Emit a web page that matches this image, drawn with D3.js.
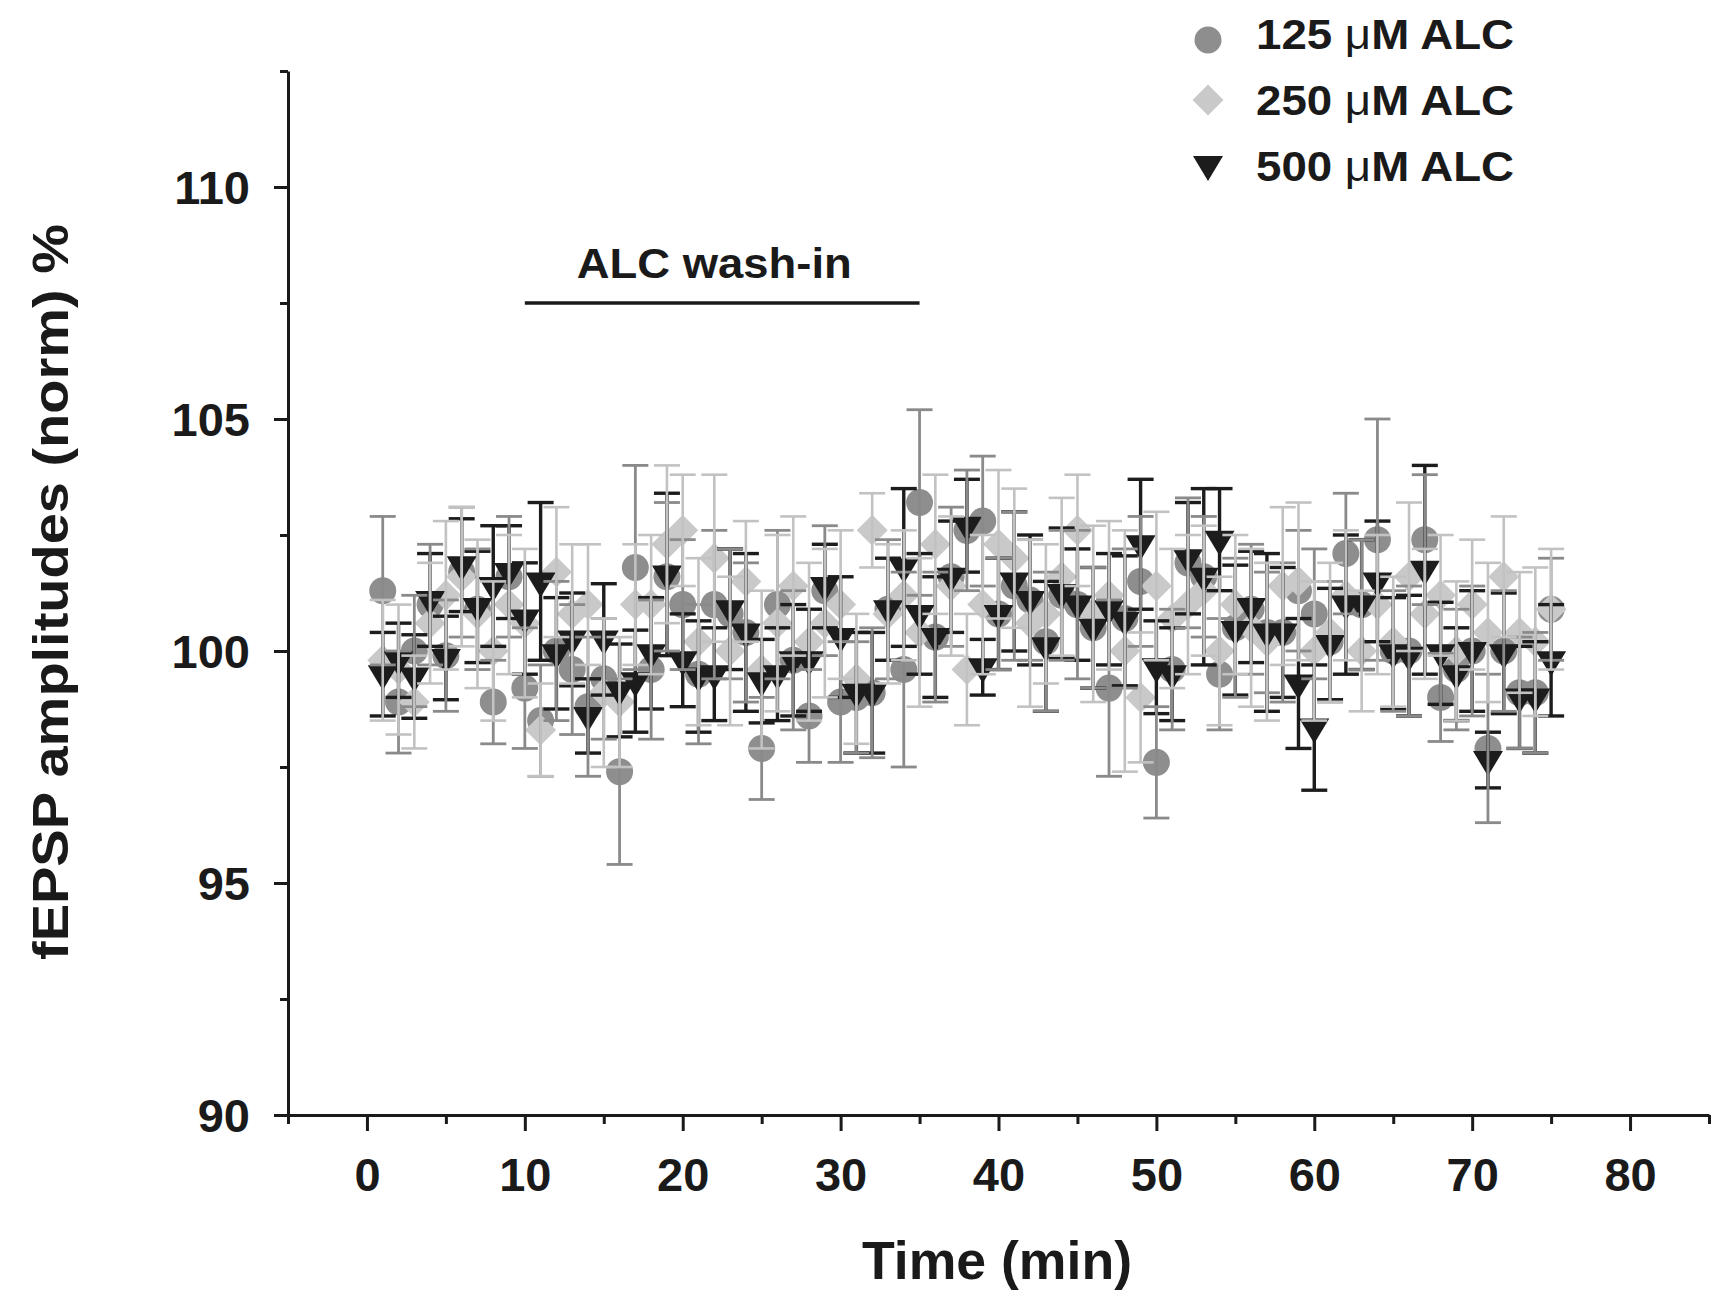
<!DOCTYPE html>
<html>
<head>
<meta charset="utf-8">
<script src="https://cdn.jsdelivr.net/npm/d3@7"></script>
<style>
  body { margin: 0; background: #fff; }
  text { font-family: "Liberation Sans", Arial, sans-serif; font-weight: bold; fill: #1a1a1a; }
</style>
</head>
<body>
<div id="chart"></div>
<script>
// fEPSP amplitudes during ALC wash-in

const minutes = [1,2,3,4,5,6,7,8,9,10,11,12,13,14,15,16,17,18,19,20,21,22,23,24,25,
  26,27,28,29,30,31,32,33,34,35,36,37,38,39,40,41,42,43,44,45,46,47,48,49,50,
  51,52,53,54,55,56,57,58,59,60,61,62,63,64,65,66,67,68,69,70,71,72,73,74,75];

const alc125 = [101.3,98.9,100.0,101.0,99.9,101.7,100.9,98.9,101.6,99.2,98.5,100.0,99.6,98.8,99.4,97.4,101.8,99.6,101.6,101.0,
  99.5,101.0,100.8,100.4,97.9,101.0,99.8,98.6,101.3,98.9,99.0,99.1,100.9,99.6,103.2,100.3,101.6,102.6,102.8,100.8,
  101.4,101.1,100.2,101.2,101.0,100.5,99.2,100.7,101.5,97.6,99.6,101.9,101.6,99.5,100.5,100.9,100.4,100.4,101.3,100.8,
  100.2,102.1,101.0,102.4,100.0,100.0,102.4,99.0,99.6,100.0,97.9,100.0,99.1,99.1,100.9];
const err125 = [1.6,1.1,1.2,1.3,1.2,1.4,1.3,0.9,1.3,1.3,1.2,1.5,1.4,1.5,1.3,2.0,2.2,1.5,1.6,1.4,
  1.5,1.6,1.4,1.5,1.1,1.6,1.5,1.0,1.4,1.3,1.2,1.4,1.5,2.1,2.0,1.4,1.5,1.3,1.4,1.2,
  1.6,1.3,1.5,1.4,1.6,1.3,1.9,1.5,1.4,1.2,1.3,1.4,1.3,1.2,1.5,1.4,1.3,1.5,1.3,1.4,
  1.3,1.3,1.4,2.6,1.3,1.4,1.4,0.95,1.3,1.4,1.6,1.3,1.2,1.3,1.1];

const alc250 = [99.8,99.6,98.9,100.6,101.2,101.6,100.8,100.0,101.0,100.6,98.3,101.7,100.8,101.0,99.1,98.9,101.0,101.0,102.3,102.6,
  100.2,102.0,100.0,101.5,99.6,100.6,101.4,100.2,100.6,101.0,99.4,102.6,100.8,101.2,100.4,102.3,101.4,99.6,101.0,102.3,
  102.0,100.6,100.8,101.6,102.6,100.8,101.2,100.0,99.0,101.4,100.7,101.0,101.3,100.0,101.0,100.5,100.2,101.4,101.5,100.0,
  100.4,101.2,100.0,101.0,100.2,101.6,100.8,101.2,100.0,101.0,100.4,101.6,100.4,100.2,100.9];
const err250 = [1.3,1.4,1.0,1.3,1.6,1.5,1.6,1.5,1.5,1.6,1.0,1.4,1.5,1.3,1.6,1.4,1.3,1.5,1.7,1.2,
  1.8,1.8,1.6,1.3,1.7,1.9,1.5,1.7,1.6,1.6,1.4,0.8,1.5,1.4,1.6,1.5,1.5,1.2,1.5,1.6,
  1.5,1.8,1.5,1.7,1.2,1.9,1.6,2.6,1.4,1.6,1.5,1.5,1.4,1.6,1.5,1.7,1.7,1.7,1.7,1.5,
  1.5,1.4,1.3,1.5,1.4,1.6,1.4,1.3,1.5,1.4,1.5,1.3,1.3,1.6,1.3];

const alc500 = [99.5,99.8,99.45,101.1,99.85,101.85,100.95,101.4,101.7,100.7,101.5,99.95,100.25,98.6,100.25,99.15,99.35,99.95,101.65,99.8,
  99.45,99.5,100.9,100.4,99.35,99.5,99.8,99.8,101.4,100.3,99.1,99.1,100.9,101.8,100.8,100.3,101.6,102.7,99.65,100.8,
  101.5,101.1,100.1,101.25,101.0,100.5,100.9,100.65,102.3,99.65,99.5,102.0,101.6,102.4,100.45,100.95,100.4,100.4,99.3,98.35,
  100.15,101.0,101.0,101.5,99.95,99.9,101.75,99.95,99.5,100.0,97.65,99.95,99.0,99.0,99.8];
const err500 = [0.9,0.8,0.9,1.0,0.9,1.0,1.2,1.3,1.0,1.2,1.7,1.2,1.0,0.8,1.2,1.0,1.1,1.2,1.75,1.0,
  1.2,1.0,1.3,1.7,0.9,1.0,1.2,1.1,0.9,1.3,1.3,1.3,1.1,1.7,1.3,1.3,1.2,1.0,0.6,1.2,
  1.5,1.4,1.4,1.4,1.2,1.3,1.2,1.4,1.4,1.0,1.0,1.2,1.9,1.1,1.4,1.2,1.7,1.4,1.4,1.35,
  1.2,1.5,1.4,1.3,1.2,1.3,2.25,1.1,1.0,1.3,0.6,1.3,1.1,1.2,1.2];

const xTicks = [0, 10, 20, 30, 40, 50, 60, 70, 80],
    xMinor = [-5, 5, 15, 25, 35, 45, 55, 65, 75, 85],
    yTicks = [90, 95, 100, 105, 110],
    yMinor = [92.5, 97.5, 102.5, 107.5, 112.5];

const washIn = [10, 35], washLevel = 107.5;

const width = 1711, height = 1292;

const svg = d3.select("#chart")
  .append("svg")
  .attr("width", width)
  .attr("height", height)
  .attr("viewBox", [0, 0, width, height]);

const x = d3.scaleLinear().domain([-5, 85]).range([288, 1709]);
const y = d3.scaleLinear().domain([90, 112.5]).range([1115, 71]);

const series = [
  { name: "125", values: alc125, errs: err125, fill: "#8e8e8e", bar: "#8a8a8a", barW: 2.8, shape: "circ" },
  { name: "250", values: alc250, errs: err250, fill: "#c9c9c9", bar: "#c2c2c2", barW: 2.6, shape: "dia" },
  { name: "500", values: alc500, errs: err500, fill: "#1c1c1c", bar: "#1c1c1c", barW: 3.4, shape: "tri" }
];
series.forEach(s => {
  s.pts = minutes.map((t, i) => ({ t, v: s.values[i], e: s.errs[i] }));
});

const cap = 13;

function marker(sel, shape, fill) {
  if (shape === "circ") {
    sel.append("circle").attr("r", 13.5).attr("fill", fill);
  } else if (shape === "dia") {
    sel.append("path").attr("d", "M0,-15.5L15.5,0L0,15.5L-15.5,0Z").attr("fill", fill);
  } else {
    sel.append("path").attr("d", "M-15,-9L15,-9L0,16Z").attr("fill", fill);
  }
}

// symbols first (125 under 250 under 500)
series.forEach(s => {
  svg.append("g")
    .attr("class", "marks-" + s.name)
    .selectAll("g")
    .data(s.pts)
    .join("g")
    .attr("transform", d => `translate(${x(d.t)},${y(d.v)})`)
    .call(sel => marker(sel, s.shape, s.fill));
});

// error bars on top, the light 250 bars last
[series[2], series[0], series[1]].forEach(s => {
  const bars = svg.append("g")
    .attr("class", "bars-" + s.name)
    .attr("stroke", s.bar)
    .attr("stroke-width", s.barW)
    .selectAll("g")
    .data(s.pts)
    .join("g");

  bars.append("line")
    .attr("x1", d => x(d.t)).attr("x2", d => x(d.t))
    .attr("y1", d => y(d.v - d.e)).attr("y2", d => y(d.v + d.e));
  bars.append("line")
    .attr("x1", d => x(d.t) - cap).attr("x2", d => x(d.t) + cap)
    .attr("y1", d => y(d.v + d.e)).attr("y2", d => y(d.v + d.e));
  bars.append("line")
    .attr("x1", d => x(d.t) - cap).attr("x2", d => x(d.t) + cap)
    .attr("y1", d => y(d.v - d.e)).attr("y2", d => y(d.v - d.e));
});

// axes
const xAxis = svg.append("g")
  .attr("transform", `translate(0,${y(90)})`)
  .call(d3.axisBottom(x).tickValues(xTicks).tickSize(16).tickSizeOuter(0));
svg.append("g")
  .attr("transform", `translate(0,${y(90)})`)
  .call(d3.axisBottom(x).tickValues(xMinor).tickSize(9).tickSizeOuter(0).tickFormat(""))
  .call(g => g.select(".domain").remove());

xAxis.selectAll("text")
  .attr("y", 76)
  .attr("dy", 0)
  .style("font-size", "47px");

const yAxis = svg.append("g")
  .attr("transform", `translate(${x(-5)},0)`)
  .call(d3.axisLeft(y).tickValues(yTicks).tickSize(14).tickPadding(24).tickSizeOuter(0));
svg.append("g")
  .attr("transform", `translate(${x(-5)},0)`)
  .call(d3.axisLeft(y).tickValues(yMinor).tickSize(8).tickSizeOuter(0).tickFormat(""))
  .call(g => g.select(".domain").remove());

yAxis.selectAll("text")
  .attr("dy", "0.36em")
  .style("font-size", "47px");

svg.selectAll(".domain, .tick line")
  .attr("stroke", "#1a1a1a")
  .attr("stroke-width", 3);
svg.selectAll(".tick text").attr("fill", "#1a1a1a");

// axis titles
svg.append("text")
  .attr("x", 997)
  .attr("y", 1279)
  .attr("text-anchor", "middle")
  .attr("textLength", 270)
  .attr("lengthAdjust", "spacingAndGlyphs")
  .style("font-size", "53px")
  .text("Time (min)");

svg.append("text")
  .attr("transform", "translate(68,592) rotate(-90)")
  .attr("text-anchor", "middle")
  .attr("textLength", 736)
  .attr("lengthAdjust", "spacingAndGlyphs")
  .style("font-size", "50px")
  .text("fEPSP amplitudes (norm) %");

// wash-in bar
svg.append("line")
  .attr("x1", x(washIn[0])).attr("x2", x(washIn[1]))
  .attr("y1", y(washLevel)).attr("y2", y(washLevel))
  .attr("stroke", "#1a1a1a")
  .attr("stroke-width", 3.5);

svg.append("text")
  .attr("x", x(22))
  .attr("y", y(washLevel) - 25)
  .attr("text-anchor", "middle")
  .attr("textLength", 275)
  .attr("lengthAdjust", "spacingAndGlyphs")
  .style("font-size", "42px")
  .text("ALC wash-in");

// legend
const legendItems = [
  { label: "125", shape: "circ", fill: "#8e8e8e" },
  { label: "250", shape: "dia", fill: "#c9c9c9" },
  { label: "500", shape: "tri", fill: "#1c1c1c" }
];

const legend = svg.append("g")
  .selectAll("g")
  .data(legendItems)
  .join("g")
  .attr("transform", (d, i) => `translate(0,${49 + i * 66})`);

legend.append("g")
  .attr("transform", d => `translate(1208,${d.shape === "circ" ? -9 : d.shape === "dia" ? -15 : -16})`)
  .each(function(d) { marker(d3.select(this), d.shape, d.fill); });

const lt = legend.append("text")
  .attr("x", 1256)
  .attr("y", 0)
  .attr("textLength", 258)
  .attr("lengthAdjust", "spacingAndGlyphs")
  .style("font-size", "42px");
lt.append("tspan").text(d => d.label + " ");
lt.append("tspan").style("font-weight", "normal").text("\u03BC");
lt.append("tspan").text("M ALC");
</script>
</body>
</html>
